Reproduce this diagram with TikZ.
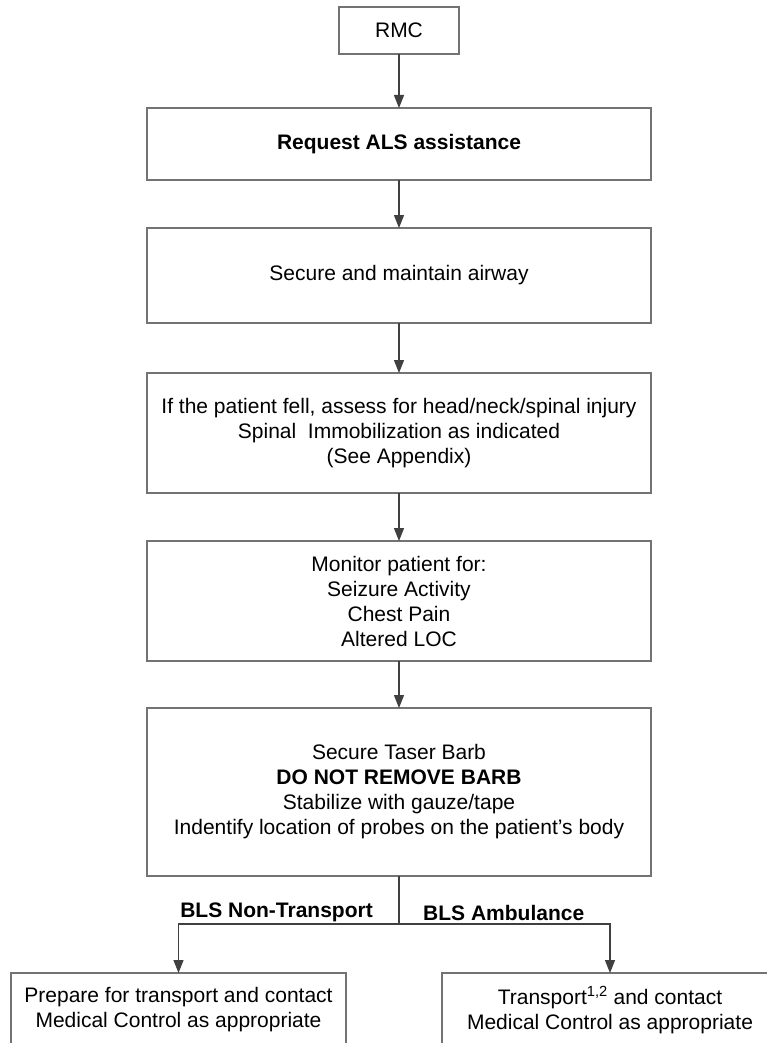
\documentclass[tikz,border=0pt]{standalone}
\usepackage{fontspec}
\setmainfont{Liberation Sans}
\usetikzlibrary{arrows.meta}
\begin{document}
\begin{tikzpicture}[x=1pt,y=-1pt,
  box/.style={draw=black!55, line width=1.3pt, fill=white, align=center,
    font=\fontsize{21}{25}\selectfont, inner sep=0pt, outer sep=0pt},
  conn/.style={draw=black!75, line width=1.2pt},
  arr/.style={conn, -{Triangle[width=10pt,length=13pt]}},
  lbl/.style={font=\fontsize{21}{25}\selectfont\bfseries, inner sep=0pt}]
\useasboundingbox (0,0) rectangle (767,1043);
\clip (0,0) rectangle (767,1043);
\fill[white] (0,0) rectangle (767,1043);

\node[box, minimum width=120pt, minimum height=47pt] (rmc) at (399,30.5) {RMC};
\node[box, minimum width=504pt, minimum height=72pt] (req) at (399,144) {\bfseries Request ALS assistance};
\node[box, minimum width=504pt, minimum height=95pt] (air) at (399,275.5) {Secure and maintain airway};
\node[box, minimum width=504pt, minimum height=120pt] (fall) at (399,433) {If the patient fell, assess for head/neck/spinal injury\\Spinal\ \ Immobilization as indicated\\(See Appendix)};
\node[box, minimum width=504pt, minimum height=120pt] (mon) at (399,601) {Monitor patient for:\\Seizure Activity\\Chest Pain\\Altered LOC};
\node[box, minimum width=504pt, minimum height=168pt] (taser) at (399,792) {Secure Taser Barb\\\textbf{DO NOT REMOVE BARB}\\Stabilize with gauze/tape\\Indentify location of probes on the patient’s body};
\node[box, minimum width=335pt, minimum height=74pt] (lbox) at (178.5,1010) {Prepare for transport and contact\\Medical Control as appropriate};
\node[box, minimum width=336pt, minimum height=74pt] (rbox) at (610,1010) {Transport\textsuperscript{1,2} and contact\\Medical Control as appropriate};

\coordinate (split) at (399,924);

\draw[arr] (rmc.south) -- (req.north);
\draw[arr] (req.south) -- (air.north);
\draw[arr] (air.south) -- (fall.north);
\draw[arr] (fall.south) -- (mon.north);
\draw[arr] (mon.south) -- (taser.north);
\draw[conn] (taser.south) -- (split);
\draw[arr] (split) -| (lbox.north);
\draw[arr] (split) -| (rbox.north);

\node[lbl, anchor=east] (lblL) at (373,912) {BLS Non-Transport};
\node[lbl, anchor=west] (lblR) at (423,913) {BLS Ambulance};
\end{tikzpicture}
\end{document}
